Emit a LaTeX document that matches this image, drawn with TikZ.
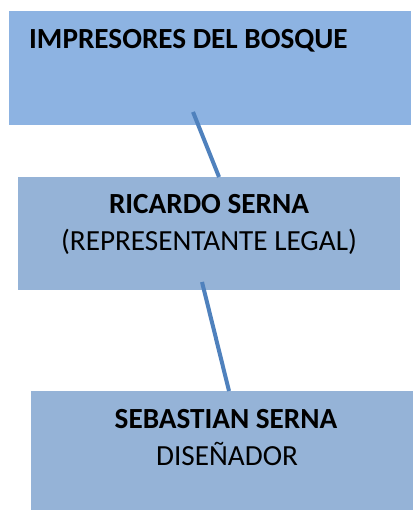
\documentclass[tikz,border=0pt]{standalone}
\usepackage{fontspec}
\setmainfont{Carlito}
\definecolor{boxA}{HTML}{8DB3E2}
\definecolor{boxB}{HTML}{95B3D7}
\definecolor{linkc}{HTML}{4F81BD}
\begin{document}
\begin{tikzpicture}[x=1pt,y=-1pt,
  txt/.style={inner sep=0pt,anchor=base,font=\fontsize{29.2}{34}\selectfont},
  btxt/.style={txt,font=\fontsize{29.2}{34}\selectfont\bfseries},
  link/.style={draw=linkc,line width=4pt}]
\useasboundingbox (0,0) rectangle (412,510);
\fill[boxA] (9,11) rectangle (411,125);
\fill[boxB] (18,177) rectangle (400,290);
\fill[boxB] (31,391) rectangle (421,510);
\node[btxt,anchor=base west] (t1) at (29,49) {IMPRESORES DEL BOSQUE};
\node[btxt] (t2) at (209,214) {RICARDO SERNA};
\node[txt] (t2b) at (209,250) {(REPRESENTANTE LEGAL)};
\node[btxt] (t3) at (226,428) {SEBASTIAN SERNA};
\node[txt] (t3b) at (227,465) {DISEÑADOR};
\coordinate (a1) at (193,112);
\coordinate (a2) at (219,177);
\coordinate (b1) at (202,282);
\coordinate (b2) at (229,391);
\draw[link] (a1) -- (a2);
\draw[link] (b1) -- (b2);
\end{tikzpicture}
\end{document}
